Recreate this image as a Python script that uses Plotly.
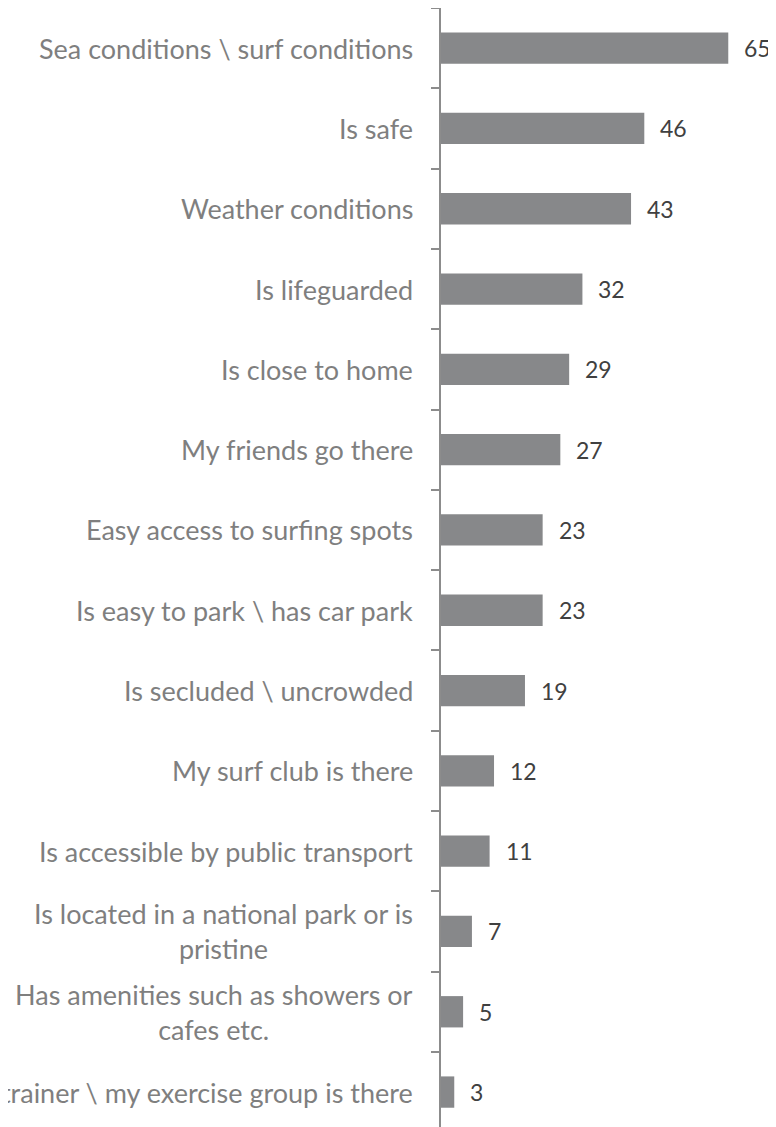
import plotly.graph_objects as go

categories = [
    "Sea conditions \\ surf conditions",
    "Is safe",
    "Weather conditions",
    "Is lifeguarded",
    "Is close to home",
    "My friends go there",
    "Easy access to surfing spots",
    "Is easy to park \\ has car park",
    "Is secluded \\ uncrowded",
    "My surf club is there",
    "Is accessible by public transport",
    "Is located in a national park or is<br>pristine",
    "Has amenities such as showers or<br>cafes etc.",
    "My trainer \\ my exercise group is there",
]
values = [65, 46, 43, 32, 29, 27, 23, 23, 19, 12, 11, 7, 5, 3]

LABEL_FONT = dict(family="Lato", size=27, color="#7f7f7f")
VALUE_FONT = dict(family="Lato", size=23, color="#404040")

fig = go.Figure()
fig.add_trace(go.Bar(
    x=values, y=categories, orientation="h",
    marker=dict(color="#87888a", line=dict(width=0)),
    hoverinfo="skip",
))

annotations = []
for c, v in zip(categories, values):
    annotations.append(dict(
        x=0, xref="paper", y=c, yref="y", text=c, showarrow=False,
        xanchor="right", yanchor="middle", align="center", xshift=-26,
        font=LABEL_FONT,
    ))
    annotations.append(dict(
        x=v, xref="x", y=c, yref="y", text=str(v), showarrow=False,
        xanchor="left", yanchor="middle", xshift=14,
        font=VALUE_FONT,
    ))

fig.update_layout(
    width=768, height=1119,
    margin=dict(l=433, r=0, t=0, b=0),
    paper_bgcolor="white", plot_bgcolor="white",
    showlegend=False, bargap=0.61,
    annotations=annotations,
    xaxis=dict(range=[0, 75.8], visible=False, fixedrange=True),
    yaxis=dict(
        type="category", categoryorder="array", categoryarray=categories,
        range=[13.435, -0.5], showticklabels=False,
        ticks="outside", tickson="boundaries", ticklen=8,
        tickcolor="#8c8c8c", tickwidth=1.5,
        showline=True, linecolor="#8c8c8c", linewidth=1.5,
        showgrid=False, zeroline=False, automargin=False,
    ),
)

fig.write_html("out.html")
